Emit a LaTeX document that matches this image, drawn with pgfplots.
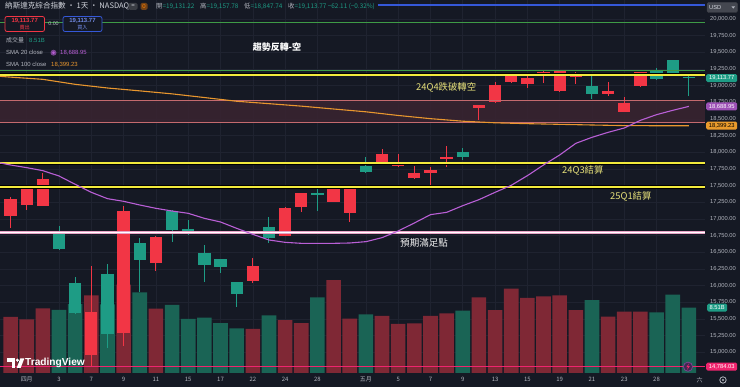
\documentclass[border=0pt]{standalone}
\usepackage{fontspec}
\setmainfont{Liberation Sans}
\newfontfamily\cjk{Noto Sans CJK TC}
\usepackage{pgfplots}
\usepackage{pgfplotstable}
\pgfplotsset{compat=1.18}

\definecolor{bg}{HTML}{151924}
\definecolor{gridc}{HTML}{1F2330}
\definecolor{axtxt}{HTML}{B2B5BE}
\definecolor{upc}{HTML}{F23645}
\definecolor{dnc}{HTML}{1E9C85}
\definecolor{upv}{HTML}{7F2835}
\definecolor{dnv}{HTML}{1A6455}
\definecolor{smaA}{HTML}{B95FD6}
\definecolor{smaB}{HTML}{E8962E}
\definecolor{yel}{HTML}{F2EA3C}
\definecolor{anno}{HTML}{E6E07A}
\definecolor{bandl}{HTML}{C46A6E}
\definecolor{bandf}{HTML}{3A2430}
\definecolor{bluel}{HTML}{3558D8}
\definecolor{greenl}{HTML}{3E9B46}
\definecolor{pinkl}{HTML}{F0246E}
\definecolor{hdr}{HTML}{D1D4DC}
\definecolor{pinkedge}{HTML}{E7A3C6}

% up days (red, Taiwan convention)
\pgfplotstableread{
i o h l c v
0 17045 17335 16860 17299 7.30
1 17210 17485 17135 17450 7.00
2 17195 17685 17190 17601 8.42
5 14965 16292 14784 15603 10.1
7 15285 17200 15100 17125 11.5
9 16345 16745 16225 16724 8.40
15 16065 16410 16045 16300 5.75
17 16745 17175 16740 17166 6.90
18 17175 17390 17110 17383 6.50
20 17260 17480 17250 17461 12.1
21 17095 17480 16960 17446 7.10
23 17860 18050 17825 17978 7.43
24 17800 17975 17785 17844 6.40
25 17610 17795 17600 17690 6.48
26 17695 17775 17495 17738 7.43
27 17910 18095 17785 17928 7.78
29 18670 18710 18485 18708 9.85
30 18750 19060 18745 19010 8.20
31 19060 19160 19035 19147 11.0
32 19025 19185 18960 19112 9.80
33 19150 19215 19045 19211 9.98
34 18925 19225 18900 19215 10.1
35 19135 19200 19025 19143 8.20
37 18875 19060 18845 18926 7.34
38 18610 18835 18600 18737 8.00
39 19000 19200 18975 19199 8.00
}\up

% down days (green)
\pgfplotstableread{
i o h l c v
3 16795 16900 16535 16551 8.21
4 16045 16135 15580 15588 8.99
6 16180 16325 15060 15268 8.94
8 16635 16710 15910 16387 10.5
10 17125 17130 16660 16831 8.86
11 16845 16985 16760 16823 7.04
12 16495 16610 16060 16307 7.20
13 16400 16400 16185 16286 6.50
14 16055 16060 15685 15871 5.83
16 16885 17025 16645 16708 7.52
19 17385 17445 17125 17366 9.85
22 17795 17925 17690 17711 7.65
28 18010 18060 17885 17929 8.12
36 19000 19150 18795 18873 9.50
40 19225 19260 19090 19101 7.90
41 19385 19390 19150 19176 10.2
42 19131.22 19157.78 18847.74 19113.77 8.51
}\dn

\pgfplotstableread{
i s
-0.656 17840
0 17810
1 17770
2 17725
3 17645
4 17520
5 17400
6 17305
7 17265
8 17210
9 17160
10 17120
11 17085
12 17010
13 16955
14 16860
15 16770
16 16685
17 16650
18 16635
19 16635
20 16635
21 16640
22 16660
23 16720
24 16820
25 16940
26 17065
27 17100
28 17200
29 17290
30 17400
31 17505
32 17650
33 17810
34 17960
35 18135
36 18225
37 18300
38 18365
39 18480
40 18565
41 18630
42 18689
}\smaAt

\pgfplotstableread{
i s
-0.656 19140
0 19128
2 19095
4 19020
6 18965
8 18922
10 18877
12 18822
14 18766
16 18730
18 18693
20 18650
22 18608
24 18553
26 18505
28 18467
30 18443
32 18430
34 18420
36 18410
38 18401
40 18399
42 18399
}\smaBt

\begin{document}
\begin{tikzpicture}
\fill[bg] (0,0) rectangle (740bp,387bp);
\pgfplotsset{base/.style={scale only axis, width=705bp, height=373bp,
  at={(0bp,14bp)}, anchor=south west, xmin=-0.656, xmax=43.0}}

% grid and tick labels
\begin{axis}[base, ymin=14690, ymax=20285,
  axis line style={draw=none}, major tick length=0pt,
  scaled y ticks=false, scaled x ticks=false,
  ytick={15000,15250,...,20000}, yticklabel pos=right,
  yticklabel style={anchor=west, inner sep=0pt, xshift=5bp,
    font=\fontsize{5.8}{6}\selectfont, text=axtxt},
  /pgf/number format/fixed, /pgf/number format/fixed zerofill,
  /pgf/number format/precision=2, /pgf/number format/1000 sep={,},
  /pgf/number format/assume math mode=true,
  xtick={1,3,5,7,9,11,13,15,17,19,22,24,26,28,30,32,34,36,38,40},
  xticklabels={四月,3,7,9,11,15,17,22,24,28,五月,5,7,9,13,15,19,21,23,28},
  xticklabel style={font=\cjk\fontsize{6}{7}\selectfont, text=axtxt, anchor=north, inner sep=0pt, yshift=-4bp},
  extra x ticks={42.67}, extra x tick labels={六},
  extra x tick style={grid=none},
  grid=major, grid style={gridc, line width=0.6bp}]
\addplot[draw=none, forget plot] coordinates {(0,15000)};
\end{axis}

% volume
\begin{axis}[base, hide axis, ymin=0, ymax=48.6]
\addplot[ybar, bar width=14.6bp, bar shift=0pt, fill=upv, draw=none] table[x=i, y=v] {\up};
\addplot[ybar, bar width=14.6bp, bar shift=0pt, fill=dnv, draw=none] table[x=i, y=v] {\dn};
\end{axis}

% price
\begin{axis}[base, hide axis, ymin=14690, ymax=20285]
\addplot[fill=bandf, draw=none, fill opacity=0.85] coordinates {(-0.656,18445) (43,18445) (43,18775) (-0.656,18775)} -- cycle;
% candles: wicks
\addplot[draw=none, forget plot, error bars/.cd, y dir=both, y explicit, error mark=none,
  error bar style={draw=upc, line width=1bp}]
  table[x=i, y expr={(\thisrow{h}+\thisrow{l})/2}, y error expr={(\thisrow{h}-\thisrow{l})/2}] {\up};
\addplot[draw=none, forget plot, error bars/.cd, y dir=both, y explicit, error mark=none,
  error bar style={draw=dnc, line width=1bp}]
  table[x=i, y expr={(\thisrow{h}+\thisrow{l})/2}, y error expr={(\thisrow{h}-\thisrow{l})/2}] {\dn};
% candles: bodies
\addplot[draw=none, forget plot, error bars/.cd, y dir=both, y explicit, error mark=none,
  error bar style={draw=upc, line width=12.3bp}]
  table[x=i, y expr={(\thisrow{o}+\thisrow{c})/2}, y error expr={max(abs(\thisrow{c}-\thisrow{o})/2,9)}] {\up};
\addplot[draw=none, forget plot, error bars/.cd, y dir=both, y explicit, error mark=none,
  error bar style={draw=dnc, line width=12.3bp}]
  table[x=i, y expr={(\thisrow{o}+\thisrow{c})/2}, y error expr={max(abs(\thisrow{c}-\thisrow{o})/2,9)}] {\dn};
% horizontal drawings
\addplot[bandl, line width=1.1bp] coordinates {(-0.656,18775) (43,18775)};
\addplot[bandl, line width=1.1bp] coordinates {(-0.656,18445) (43,18445)};
\addplot[bluel, line width=1.6bp] coordinates {(22.75,20210) (43,20210)};
\addplot[greenl, line width=1bp] coordinates {(-0.656,19950) (43,19950)};
\addplot[greenl, line width=1bp] coordinates {(-0.656,19222) (43,19222)};
\addplot[black, line width=3.4bp] coordinates {(-0.656,19165) (43,19165)};
\addplot[yel, line width=1.8bp] coordinates {(-0.656,19165) (43,19165)};
\addplot[black, line width=3.4bp] coordinates {(-0.656,17835) (43,17835)};
\addplot[yel, line width=1.8bp] coordinates {(-0.656,17835) (43,17835)};
\addplot[black, line width=3.4bp] coordinates {(-0.656,17480) (43,17480)};
\addplot[yel, line width=1.8bp] coordinates {(-0.656,17480) (43,17480)};
\addplot[pinkedge, line width=3.2bp] coordinates {(-0.656,16800) (43,16800)};
\addplot[white, line width=1.5bp] coordinates {(-0.656,16800) (43,16800)};
\addplot[pinkl, line width=1.5bp] coordinates {(-0.656,14784.03) (43,14784.03)};
% moving averages
\addplot[smaB, line width=1.1bp] table[x=i, y=s] {\smaBt};
\addplot[smaA, line width=1.1bp] table[x=i, y=s] {\smaAt};
\end{axis}

\begin{scope}[shift={(0bp,387bp)}, x=1bp, y=-1bp]
% header
\node[anchor=west, inner sep=0, text=hdr, font=\cjk\fontsize{7.6}{8}\selectfont] at (5,6.3) {納斯達克綜合指數 · 1天 · NASDAQ};
\node[fill=gray!35!bg, rounded corners=1.5bp, minimum width=9bp, minimum height=7bp, inner sep=0, text=hdr, font=\fontsize{6}{6}\selectfont] at (133,6.3) {=};
\node[fill=orange!40!bg, rounded corners=1.5bp, minimum width=7bp, minimum height=7bp, inner sep=0, text=orange, font=\fontsize{6}{6}\selectfont] at (144,6.3) {0};
\begin{scope}[every node/.style={anchor=west, inner sep=0, font=\cjk\fontsize{6.4}{7}\selectfont}]
\node[text=axtxt] at (156,6.3) {開\textcolor{dnc}{=19,131.22}};
\node[text=axtxt] at (200,6.3) {高\textcolor{dnc}{=19,157.78}};
\node[text=axtxt] at (244,6.3) {低\textcolor{dnc}{=18,847.74}};
\node[text=axtxt] at (288,6.3) {收\textcolor{dnc}{=19,113.77 −62.11 (−0.32\%)}};
\end{scope}
% buy / sell boxes
\draw[upc, fill=bg, rounded corners=2bp, line width=0.8bp] (5,16.5) rectangle (44.5,31.5);
\node[text=upc, inner sep=0, font=\bfseries\fontsize{6}{6}\selectfont] at (24.7,20.8) {19,113.77};
\node[text=upc, inner sep=0, font=\cjk\fontsize{5.2}{6}\selectfont] at (24.7,27.5) {賣出};
\node[text=axtxt, inner sep=0, font=\fontsize{5.4}{6}\selectfont] at (53.5,23.5) {0.00};
\draw[bluel, fill=bg, rounded corners=2bp, line width=0.8bp] (63,16.5) rectangle (102,31.5);
\node[text=bluel!70!white, inner sep=0, font=\bfseries\fontsize{6}{6}\selectfont] at (82.5,20.8) {19,113.77};
\node[text=bluel!70!white, inner sep=0, font=\cjk\fontsize{5.2}{6}\selectfont] at (82.5,27.5) {買入};
% legend rows
\node[anchor=west, inner sep=0, text=axtxt, font=\cjk\fontsize{6}{7}\selectfont] at (6,40.7) {成交量};
\node[anchor=west, inner sep=0, text=dnc, font=\fontsize{6}{7}\selectfont] at (29,40.7) {8.51B};
\node[anchor=west, inner sep=0, text=axtxt, font=\fontsize{6}{7}\selectfont] at (6,52.7) {SMA 20 close};
\fill[smaA!60!bg] (53.5,52.7) circle (3bp);
\fill[smaA] (53.5,52.7) circle (1.4bp);
\node[anchor=west, inner sep=0, text=smaA, font=\fontsize{6}{7}\selectfont] at (60,52.7) {18,688.95};
\node[anchor=west, inner sep=0, text=axtxt, font=\fontsize{6}{7}\selectfont] at (6,64.3) {SMA 100 close};
\node[anchor=west, inner sep=0, text=smaB, font=\fontsize{6}{7}\selectfont] at (51,64.3) {18,399.23};
% annotations
\node[text=white, inner sep=0, font=\cjk\bfseries\fontsize{9}{10}\selectfont] at (277,46.7) {趨勢反轉-空};
\node[anchor=west, text=anno, inner sep=0, font=\cjk\fontsize{9.4}{10}\selectfont] at (416,87.3) {24Q4跌破轉空};
\node[anchor=west, text=anno, inner sep=0, font=\cjk\fontsize{9.4}{10}\selectfont] at (562,170) {24Q3結算};
\node[anchor=west, text=anno, inner sep=0, font=\cjk\fontsize{9.4}{10}\selectfont] at (610,196.7) {25Q1結算};
\node[anchor=west, text=white!88!gray, inner sep=0, font=\cjk\fontsize{9.6}{10}\selectfont] at (400,242.7) {預期滿足點};
% right axis tags
\begin{scope}[every node/.style={anchor=west, inner sep=0, rounded corners=1.5bp, minimum height=8bp, font=\fontsize{5.8}{6}\selectfont}]
\node[fill=dnc, text=white, minimum width=31bp] at (706,78.1) {19,113.77};
\node[fill=smaA!85!black, text=white, minimum width=31bp] at (706,106.4) {18,688.95};
\node[fill=smaB!95!yellow, text=black, minimum width=31bp] at (706,125.7) {18,399.23};
\node[fill=dnc, text=white, minimum width=20bp] at (707,307.7) {8.51B};
\node[fill=pinkl, text=white, minimum width=31bp] at (706,366.7) {14,784.03};
\end{scope}
% USD box
\draw[fill=bg!80!white, draw=gray!40!bg, rounded corners=1.5bp] (707,2.5) rectangle (737.5,12.5);
\node[anchor=west, inner sep=0, text=hdr, font=\fontsize{5.8}{6}\selectfont] at (709,7.5) {USD};
\fill[axtxt] (731.5,6.5) -- (735,6.5) -- (733.25,8.6) -- cycle;
% lightning icon
\draw[fill=smaA!25!bg, draw=smaA!70!black, line width=0.7bp] (688,366.7) circle (4.6bp);
\fill[pinkl] (689.2,363.2) -- (686.3,367.2) -- (688.2,367.2) -- (686.8,370.3) -- (689.8,366.1) -- (687.9,366.1) -- cycle;
% settings icon
\draw[axtxt, line width=0.8bp] (723,380) circle (3.2bp);
\fill[axtxt] (723,380) circle (1.1bp);
% TradingView logo
\fill[white] (7,358.5) rectangle (15,361.8);
\fill[white] (11.6,358.5) rectangle (15,368);
\fill[white] (17.4,360.2) circle (1.7bp);
\fill[white] (20.3,358.5) -- (24.3,358.5) -- (20.6,368) -- (16.6,368) -- cycle;
\node[anchor=west, inner sep=0, text=white, font=\bfseries\fontsize{10.2}{11}\selectfont] at (25,363.3) {TradingView};
\end{scope}
\pgfresetboundingbox
\useasboundingbox (0,0) rectangle (740bp,387bp);
\end{tikzpicture}
\end{document}
